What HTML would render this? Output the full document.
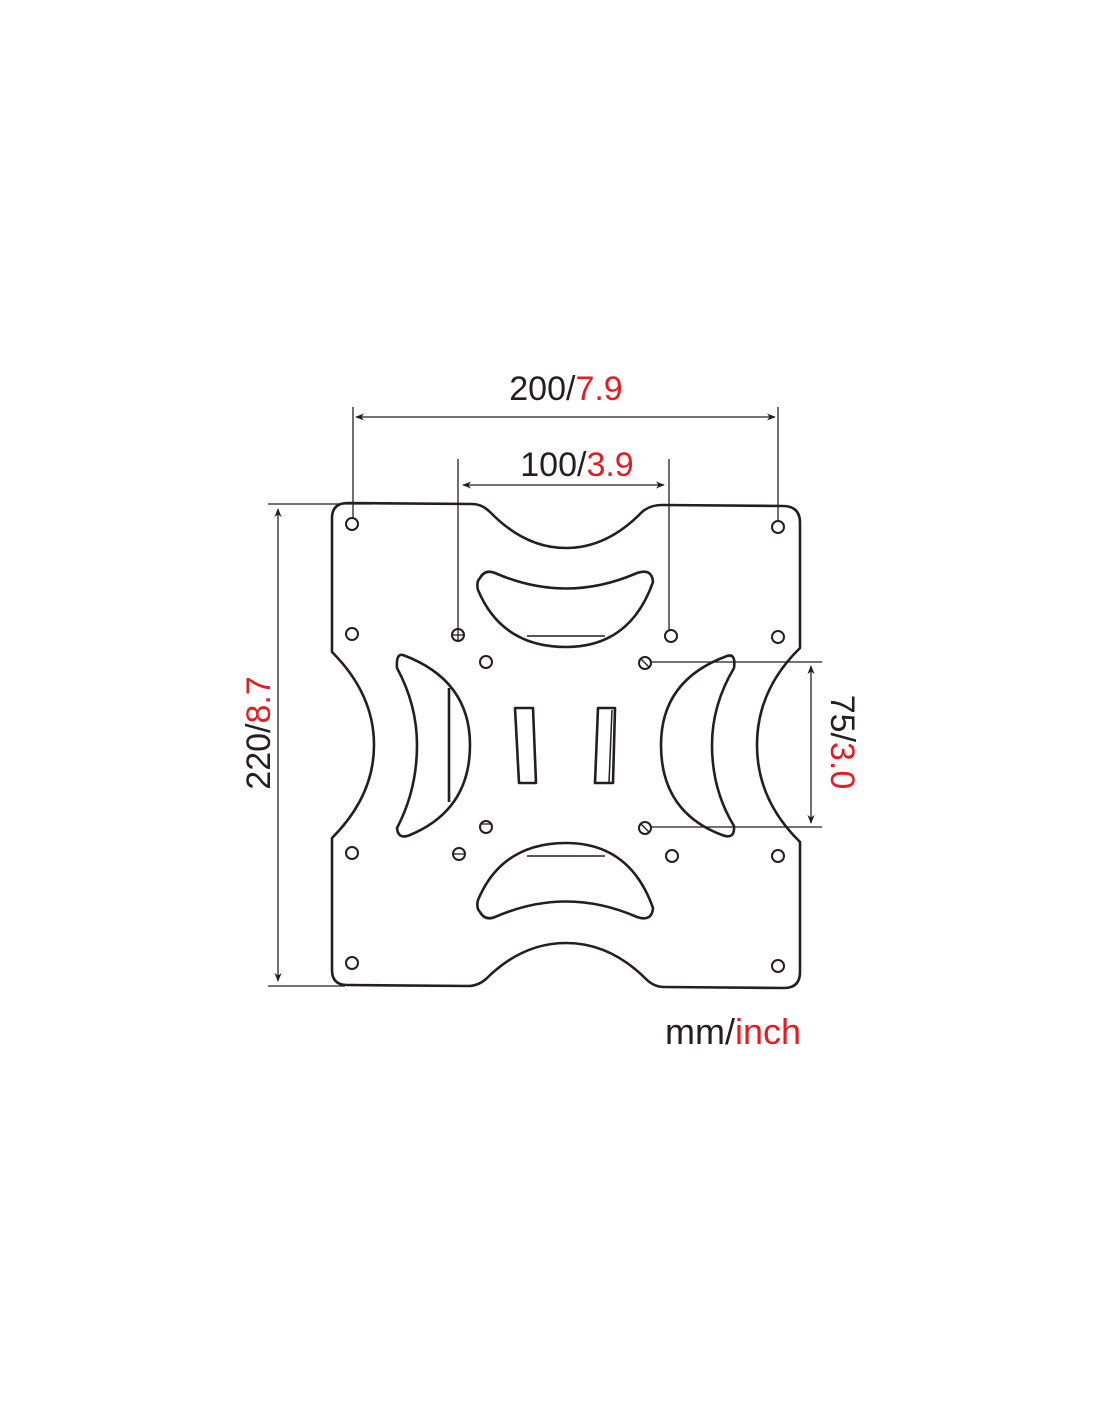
<!DOCTYPE html>
<html><head><meta charset="utf-8"><style>
html,body{margin:0;padding:0;background:#fff;}
svg{display:block}
text{font-family:"Liberation Sans",sans-serif;fill:#231f20}
.r{fill:#e01e26}
</style></head><body>
<svg width="1100" height="1422" viewBox="0 0 1100 1422" xmlns="http://www.w3.org/2000/svg">
<defs>
<marker id="a" viewBox="0 0 10 10" refX="9" refY="5" markerWidth="9" markerHeight="9" orient="auto-start-reverse" markerUnits="userSpaceOnUse"><path d="M0,1 L10,5 L0,9 L3,5 z" fill="#231f20"/></marker>
</defs>
<g fill="none" stroke="#231f20" stroke-width="1.3">
<line x1="353" y1="407" x2="353" y2="524"/>
<line x1="778" y1="407" x2="778" y2="527"/>
<line x1="356" y1="417" x2="775" y2="417" marker-start="url(#a)" marker-end="url(#a)"/>
<line x1="458" y1="459" x2="458" y2="635"/>
<line x1="669" y1="459" x2="669" y2="636"/>
<line x1="463" y1="485" x2="664" y2="485" marker-start="url(#a)" marker-end="url(#a)"/>
<line x1="268" y1="504" x2="372" y2="504"/>
<line x1="268" y1="986" x2="345" y2="986"/>
<line x1="278" y1="509" x2="278" y2="981" marker-start="url(#a)" marker-end="url(#a)"/>
<line x1="645" y1="662" x2="822" y2="662"/>
<line x1="645" y1="827" x2="822" y2="827"/>
<line x1="811" y1="666" x2="811" y2="823" marker-start="url(#a)" marker-end="url(#a)"/>
</g>
<g fill="none" stroke="#231f20" stroke-width="2.6" stroke-linejoin="round">
<path d="M348,503 L472,504 Q482,504 490,512 Q525,548 566,548 Q607,548 642,512 Q650,505 662,505 L783,506 Q800,506 800,523 L800,648 Q757,690 757,745 Q757,800 800,842 L800,972 Q800,988 784,988 L664,987 Q654,987 646,979 Q610,943 566,943 Q522,943 486,979 Q478,986 468,986 L347,985 Q332,985 332,970 L332,838 Q374,796 374,745 Q374,694 332,652 L332,518 Q332,503 348,503 Z"/>
<path d="M480,578 Q485,569 495,573 Q566,604 637,573 Q652,568 653,582 Q630,647 566,647 Q502,647 478,590 Q476,582 480,578 Z"/>
<path d="M480,912 Q485,921 495,917 Q566,886 637,917 Q652,922 653,908 Q630,843 566,843 Q502,843 478,900 Q476,908 480,912 Z"/>
<path d="M403,655 Q470,680 470,745 Q470,810 410,835 Q398,840 397,828 Q417,790 417,745 Q417,705 397,668 Q396,653 403,655 Z"/>
<path d="M727,656 Q661,680 661,745 Q661,812 722,835 Q735,840 734,826 Q712,790 712,745 Q712,705 734,668 Q736,653 727,656 Z"/>
<path d="M515,708 L533,708 L536,783 L519,783 Z"/>
<path d="M598,708 L615,708 L613,783 L595,783 Z"/>
</g>
<g fill="none" stroke="#231f20" stroke-width="1.5">
<line x1="449" y1="688" x2="449" y2="802" stroke-width="2.6"/>
<line x1="527" y1="636" x2="605" y2="636"/>
<line x1="527" y1="856" x2="605" y2="856"/>
<line x1="612" y1="710" x2="609" y2="783"/>
</g>
<g fill="#fff" stroke="#231f20" stroke-width="2">
<circle cx="352" cy="524" r="6"/><circle cx="778" cy="527" r="6"/>
<circle cx="352" cy="634" r="6"/><circle cx="778" cy="637" r="6"/>
<circle cx="352" cy="853" r="6"/><circle cx="778" cy="856" r="6"/>
<circle cx="352" cy="963" r="6"/><circle cx="778" cy="966" r="6"/>
<circle cx="458" cy="635" r="6"/><circle cx="671" cy="636" r="6"/>
<circle cx="486" cy="662" r="6"/><circle cx="645" cy="663" r="6"/>
<circle cx="486" cy="827" r="6"/><circle cx="645" cy="828" r="6"/>
<circle cx="459" cy="854" r="6"/><circle cx="672" cy="856" r="6"/>
</g>
<g stroke="#231f20" stroke-width="1.3">
<line x1="452" y1="635" x2="464" y2="635"/><line x1="458" y1="629" x2="458" y2="641"/>
<line x1="453" y1="854" x2="465" y2="854"/>
<line x1="480" y1="824" x2="492" y2="824"/>
<line x1="641" y1="659" x2="649" y2="667"/>
<line x1="641" y1="824" x2="649" y2="832"/>
</g>
<text x="566" y="400" font-size="34" text-anchor="middle">200/<tspan class="r">7.9</tspan></text>
<text x="577" y="476" font-size="34" text-anchor="middle">100/<tspan class="r">3.9</tspan></text>
<text transform="translate(270,733) rotate(-90)" font-size="34" text-anchor="middle">220/<tspan class="r">8.7</tspan></text>
<text transform="translate(831,742) rotate(90)" font-size="34" text-anchor="middle">75/<tspan class="r">3.0</tspan></text>
<text x="665" y="1044" font-size="36">mm/<tspan class="r">inch</tspan></text>
</svg>
</body></html>
